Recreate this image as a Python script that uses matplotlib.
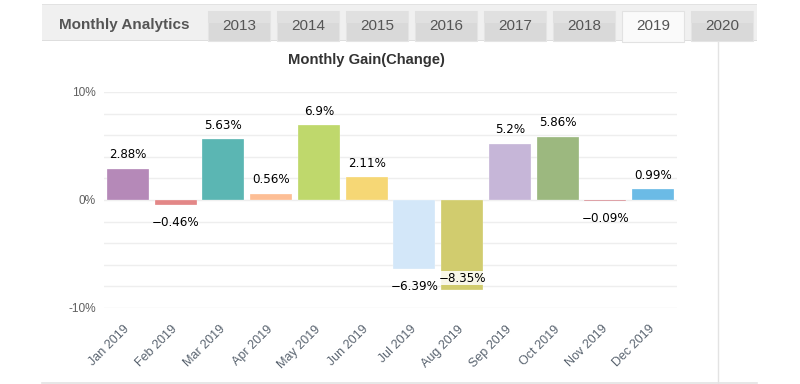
import matplotlib
matplotlib.use('Agg')
import matplotlib.pyplot as plt
from matplotlib.patches import Rectangle
import numpy as np

months = ['Jan 2019', 'Feb 2019', 'Mar 2019', 'Apr 2019', 'May 2019', 'Jun 2019',
          'Jul 2019', 'Aug 2019', 'Sep 2019', 'Oct 2019', 'Nov 2019', 'Dec 2019']
gains = [2.88, -0.46, 5.63, 0.56, 6.9, 2.11, -6.39, -8.35, 5.2, 5.86, -0.09, 0.99]
bar_colors = ['#b589b8', '#e38787', '#5bb6b3', '#fdbe95', '#bfd86c', '#f6d775',
              '#d3e7f9', '#d1cc6e', '#c6b6d8', '#9cb87f', '#d27f86', '#6bbbe6']
tabs = ['2013', '2014', '2015', '2016', '2017', '2018', '2019', '2020']
active_tab = '2019'

W, H = 800, 384
fig = plt.figure(figsize=(W / 100, H / 100), dpi=100)


def px(x, y):
    # pixel coords (from top-left) -> figure fraction
    return x / W, 1 - y / H


def box(x0, y0, x1, y1, **kw):
    fig.patches.append(Rectangle((x0 / W, 1 - y1 / H), (x1 - x0) / W, (y1 - y0) / H,
                                 transform=fig.transFigure, **kw))


# header strip
box(42, 4, 757, 41, facecolor='#f0f0f0', edgecolor='none', zorder=0)
box(42, 4, 757, 5.2, facecolor='#e2e2e2', edgecolor='none', zorder=1)
box(42, 40, 757, 41.3, facecolor='#dedede', edgecolor='none', zorder=1)
fig.text(*px(124, 25), 'Monthly Analytics', ha='center', va='center',
         fontsize=11, fontweight='bold', color='#555555', family='Liberation Sans')

x0 = 208
for t in tabs:
    if t == active_tab:
        box(x0, 11, x0 + 62, 42, facecolor='#fafafa', edgecolor='#e2e2e2', lw=0.8, zorder=2)
    else:
        box(x0, 11, x0 + 62, 41, facecolor='#d9d9d9', edgecolor='#e4e4e4', lw=0.8, zorder=2)
        box(x0, 11, x0 + 62, 23, facecolor='#e0e0e0', edgecolor='none', zorder=2)
    fig.text(*px(x0 + 31, 26), t, ha='center', va='center', fontsize=11,
             color='#555555', family='Liberation Sans', zorder=3)
    x0 += 69

# side and bottom rules
fig.add_artist(plt.Line2D([718 / W, 718 / W], [1 - 41 / H, 1 - 383 / H], color='#e3e3e3', lw=1))
fig.add_artist(plt.Line2D([42 / W, 757 / W], [1 - 383 / H, 1 - 383 / H], color='#e3e3e3', lw=1.2))

fig.text(*px(366, 60), 'Monthly Gain(Change)', ha='center', va='center',
         fontsize=10.6, fontweight='bold', color='#333333', family='Liberation Sans')

ax = fig.add_axes([104 / W, 1 - 308 / H, (677 - 104) / W, (308 - 92) / H])
x = np.arange(len(months))
bars = ax.bar(x, gains, width=0.88, color=bar_colors, edgecolor='white', lw=0.2, zorder=3)
ax.set_xlim(-0.5, len(months) - 0.5)
ax.set_ylim(-10, 10)
ax.set_yticks([-10, 0, 10])
ax.set_yticklabels(['-10%', '0%', '10%'])
ax.set_yticks(np.arange(-10, 11, 2), minor=True)
ax.grid(True, which='both', axis='y', color='#eeeeee', lw=1, zorder=0)
ax.tick_params(which='both', length=0)
ax.tick_params(axis='y', labelsize=8.6, labelcolor='#606060', pad=6)
ax.set_xticks(x)
ax.set_xticklabels(months, rotation=45, ha='right', va='center', rotation_mode='anchor',
                   fontsize=9, color='#5a6470', family='Liberation Sans')
ax.tick_params(axis='x', pad=14)
for lab in ax.get_yticklabels():
    lab.set_family('Liberation Sans')
for s in ax.spines.values():
    s.set_visible(False)

for xi, v in zip(x, gains):
    txt = f'{v:g}%'.replace('-', '\u2212')
    if v >= 0:
        ax.annotate(txt, (xi, v), xytext=(0, 5.5), textcoords='offset points',
                    ha='center', va='bottom', fontsize=8.6, color='black', zorder=5)
    elif v < -7.5:
        ax.annotate(txt, (xi, v), xytext=(0, 4), textcoords='offset points',
                    ha='center', va='bottom', fontsize=8.6, color='black', zorder=5,
                    bbox=dict(boxstyle='square,pad=0.05', fc='white', ec='none', alpha=0.85))
    else:
        ax.annotate(txt, (xi, v), xytext=(0, -8), textcoords='offset points',
                    ha='center', va='top', fontsize=8.6, color='black', zorder=5)

fig.savefig('out.png', dpi=100)
